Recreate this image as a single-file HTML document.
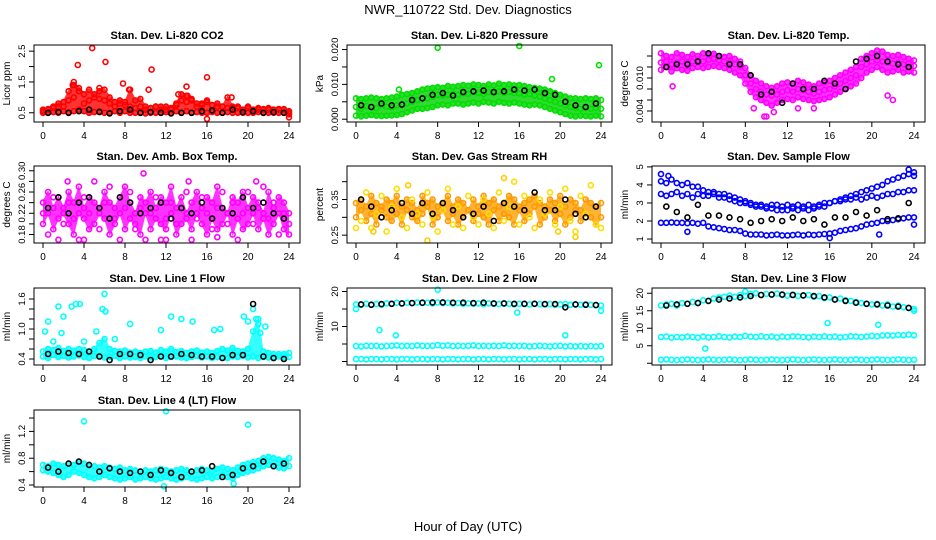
<!DOCTYPE html>
<html><head><meta charset="utf-8"><style>
body{margin:0;background:#fff;}
svg{display:block;font-family:"Liberation Sans",sans-serif;}
</style></head><body>
<svg id="c" width="936" height="540" xmlns="http://www.w3.org/2000/svg">
<text x="468" y="14" text-anchor="middle" font-size="13">NWR_110722 Std. Dev. Diagnostics</text>
<text x="468" y="531" text-anchor="middle" font-size="13">Hour of Day (UTC)</text>
</svg>
<script>
const H=[0,0.5,1,1.5,2,2.5,3,3.5,4,4.5,5,5.5,6,6.5,7,7.5,8,8.5,9,9.5,10,10.5,11,11.5,12,12.5,13,13.5,14,14.5,15,15.5,16,16.5,17,17.5,18,18.5,19,19.5,20,20.5,21,21.5,22,22.5,23,23.5,24];
const HB=[0.5,1.5,2.5,3.5,4.5,5.5,6.5,7.5,8.5,9.5,10.5,11.5,12.5,13.5,14.5,15.5,16.5,17.5,18.5,19.5,20.5,21.5,22.5,23.5];
const xTicks=[0,4,8,12,16,20,24];
// P1 CO2
const co2Low=[0.5,0.5,0.52,0.5,0.55,0.5,0.55,0.6,0.55,0.5,0.52,0.55,0.5,0.5,0.55,0.5,0.55,0.5,0.5,0.5,0.48,0.5,0.5,0.5,0.52,0.5,0.55,0.5,0.55,0.5,0.52,0.5,0.5,0.52,0.5,0.5,0.52,0.5,0.5,0.5,0.5,0.5,0.52,0.5,0.5,0.5,0.5,0.5,0.45];
const co2Mid=[0.6,0.62,0.65,0.7,0.85,0.9,1.0,1.2,1.1,0.9,1.0,0.95,0.9,1.0,0.85,0.8,0.75,0.7,0.65,0.7,0.6,0.65,0.7,0.6,0.6,0.65,0.75,0.9,0.85,0.95,0.8,0.75,0.85,0.75,0.8,0.7,0.65,0.7,0.65,0.6,0.65,0.6,0.6,0.62,0.6,0.6,0.6,0.62,0.55];
const co2High=[0.55,0.6,0.7,0.8,0.7,1.2,1.4,1.3,0.8,1.25,1.1,1.2,1.25,0.8,0.7,0.9,0.85,1.25,0.9,0.95,0.7,0.65,0.7,0.7,0.7,0.6,0.8,1.1,1.05,0.9,0.7,0.8,0.9,0.75,0.7,0.7,1.0,0.65,0.7,0.6,0.7,0.6,0.65,0.6,0.65,0.6,0.62,0.6,0.5];
const co2OutX=[4.8,3.4,6.1,10.6,16,14,7.8,3,2.9,5.5,8.4,10.3,13.2,14.1,18.4,16,24];
const co2OutY=[2.6,2.05,2.15,1.9,1.65,1.35,1.45,1.5,1.4,1.3,1.25,1.25,1.1,1.05,1.0,0.3,0.35];
const co2Black=[0.5,0.52,0.5,0.55,0.6,0.52,0.48,0.55,0.6,0.5,0.52,0.5,0.48,0.5,0.5,0.55,0.58,0.5,0.6,0.52,0.55,0.5,0.52,0.5];
// P2 Pressure
const presLow=[0.001,0.0008,0.001,0.0012,0.001,0.0009,0.001,0.0011,0.0012,0.0015,0.002,0.0025,0.003,0.003,0.0032,0.0035,0.004,0.0042,0.004,0.0045,0.0045,0.0042,0.0045,0.0048,0.0045,0.005,0.0048,0.0045,0.005,0.0047,0.0045,0.0048,0.0045,0.0042,0.004,0.0042,0.004,0.0035,0.003,0.0025,0.002,0.0015,0.001,0.0008,0.001,0.0009,0.0008,0.001,0.0008];
const presMid=[0.0035,0.003,0.0038,0.0035,0.0032,0.004,0.0036,0.0034,0.004,0.0042,0.0045,0.005,0.0055,0.006,0.006,0.0065,0.007,0.0068,0.007,0.0072,0.007,0.0075,0.0073,0.0078,0.0075,0.0072,0.0078,0.0075,0.008,0.0076,0.0078,0.0075,0.0074,0.007,0.0072,0.0068,0.0065,0.006,0.0055,0.005,0.0045,0.004,0.0035,0.0032,0.003,0.0033,0.003,0.0032,0.003];
const presHigh=[0.006,0.0058,0.006,0.0062,0.006,0.0058,0.006,0.0062,0.0065,0.007,0.0072,0.0075,0.008,0.0085,0.0088,0.009,0.0092,0.009,0.0095,0.0093,0.0095,0.0098,0.0096,0.01,0.0098,0.0095,0.01,0.0097,0.0102,0.0098,0.01,0.0097,0.0098,0.0095,0.0092,0.009,0.0088,0.0085,0.008,0.0075,0.007,0.0065,0.006,0.006,0.0058,0.006,0.0058,0.006,0.0055];
const presOutX=[8,16,23.8,19.2,4.2];
const presOutY=[0.0205,0.021,0.0155,0.0115,0.0085];
const presBlack=[0.004,0.0035,0.0045,0.004,0.0042,0.0055,0.006,0.007,0.0075,0.0068,0.0078,0.008,0.0082,0.0078,0.008,0.0085,0.0082,0.0085,0.0075,0.007,0.005,0.004,0.0035,0.0045];
// P3 Li-820 temp
const tempLow=[0.0115,0.012,0.0112,0.0118,0.0115,0.0113,0.0118,0.012,0.0118,0.012,0.0122,0.012,0.0118,0.0115,0.011,0.0105,0.009,0.0075,0.0065,0.006,0.0055,0.005,0.0055,0.006,0.0062,0.006,0.0065,0.0062,0.006,0.0058,0.006,0.0062,0.0065,0.007,0.0075,0.008,0.0085,0.009,0.01,0.011,0.0115,0.012,0.0115,0.011,0.0112,0.0115,0.011,0.0112,0.011];
const tempMid=[0.0128,0.013,0.0125,0.0128,0.013,0.0127,0.013,0.0132,0.013,0.0133,0.0135,0.0132,0.013,0.0128,0.0125,0.012,0.0105,0.009,0.008,0.0075,0.007,0.0068,0.007,0.0075,0.0078,0.0075,0.008,0.0078,0.0075,0.0072,0.0075,0.0078,0.008,0.0085,0.009,0.0095,0.01,0.0105,0.012,0.0125,0.013,0.0132,0.013,0.0128,0.0126,0.0128,0.0125,0.0126,0.0122];
const tempHigh=[0.0145,0.014,0.0138,0.0145,0.0142,0.0138,0.0143,0.014,0.0145,0.0142,0.0144,0.014,0.0138,0.014,0.0135,0.013,0.0118,0.0105,0.0095,0.009,0.0085,0.0082,0.0085,0.009,0.0092,0.009,0.0095,0.0092,0.0088,0.0085,0.009,0.0092,0.0095,0.01,0.0105,0.011,0.0115,0.012,0.0135,0.014,0.0145,0.015,0.0148,0.0142,0.014,0.0142,0.0138,0.0135,0.0132];
const tempOutX=[1.1,9.8,10,10.7,8.8,13,14.5,21.5,22];
const tempOutY=[0.0085,0.003,0.003,0.0038,0.0045,0.0045,0.0045,0.0068,0.006];
const tempBlack=[0.012,0.0125,0.0125,0.013,0.0145,0.014,0.0125,0.0125,0.0105,0.007,0.0075,0.0055,0.009,0.008,0.008,0.0095,0.009,0.008,0.013,0.0135,0.014,0.013,0.0125,0.012];
// P4 amb box temp
const ambA=[0.20,0.22,0.19,0.21,0.23,0.20,0.18,0.22,0.21,0.19,0.20,0.23,0.21,0.18,0.20,0.22,0.19,0.21,0.20,0.18,0.22,0.19,0.21,0.20,0.19,0.22,0.18,0.20,0.21,0.19,0.22,0.20,0.18,0.21,0.19,0.20,0.22,0.18,0.21,0.19,0.20,0.22,0.19,0.21,0.18,0.20,0.22,0.19,0.18];
const ambB=[0.24,0.26,0.23,0.25,0.22,0.26,0.24,0.27,0.23,0.25,0.24,0.22,0.26,0.24,0.23,0.25,0.27,0.24,0.22,0.25,0.24,0.26,0.23,0.25,0.24,0.27,0.23,0.25,0.22,0.24,0.26,0.23,0.25,0.24,0.27,0.23,0.22,0.25,0.24,0.26,0.23,0.25,0.24,0.22,0.26,0.23,0.25,0.24,0.22];
const ambC=[0.22,0.18,0.25,0.17,0.20,0.24,0.21,0.17,0.25,0.22,0.28,0.19,0.24,0.27,0.21,0.17,0.23,0.26,0.19,0.23,0.17,0.22,0.25,0.17,0.21,0.24,0.20,0.23,0.26,0.17,0.21,0.25,0.22,0.19,0.23,0.26,0.20,0.24,0.17,0.22,0.26,0.20,0.23,0.27,0.21,0.24,0.18,0.22,0.20];
const ambOutX=[9.8,2.4,20.8,12,4,14.2,17];
const ambOutY=[0.295,0.28,0.28,0.17,0.17,0.28,0.175];
const ambBlack=[0.23,0.25,0.22,0.24,0.25,0.23,0.21,0.25,0.24,0.22,0.23,0.24,0.21,0.23,0.22,0.24,0.21,0.23,0.22,0.25,0.23,0.24,0.22,0.21];
// P5 RH
const rhA=[0.30,0.32,0.29,0.31,0.28,0.33,0.30,0.29,0.31,0.28,0.32,0.30,0.29,0.31,0.33,0.28,0.30,0.32,0.29,0.31,0.28,0.30,0.32,0.29,0.31,0.30,0.28,0.32,0.29,0.31,0.30,0.28,0.32,0.29,0.31,0.33,0.28,0.30,0.32,0.29,0.31,0.28,0.30,0.32,0.29,0.31,0.30,0.28,0.30];
const rhB=[0.34,0.35,0.33,0.36,0.34,0.32,0.35,0.34,0.36,0.33,0.35,0.34,0.32,0.36,0.34,0.35,0.33,0.34,0.36,0.33,0.35,0.34,0.32,0.35,0.33,0.36,0.34,0.35,0.33,0.34,0.36,0.35,0.33,0.34,0.35,0.36,0.34,0.33,0.35,0.34,0.36,0.33,0.35,0.34,0.32,0.35,0.34,0.33,0.34];
const rhC=[0.27,0.29,0.37,0.27,0.31,0.36,0.26,0.33,0.38,0.30,0.27,0.35,0.31,0.28,0.37,0.30,0.26,0.32,0.38,0.28,0.33,0.27,0.36,0.30,0.28,0.35,0.31,0.27,0.37,0.29,0.33,0.40,0.28,0.36,0.30,0.27,0.35,0.31,0.37,0.28,0.33,0.38,0.29,0.26,0.36,0.31,0.39,0.28,0.27];
const rhBlack=[0.35,0.33,0.30,0.32,0.34,0.31,0.34,0.31,0.34,0.32,0.30,0.31,0.33,0.29,0.34,0.33,0.32,0.37,0.32,0.32,0.35,0.31,0.30,0.33];
const rhOutX=[5.1,1.7,19.8,14.5,7,21.5];
const rhOutY=[0.39,0.26,0.26,0.41,0.235,0.245];
// P6 sample flow
const sfLow=[1.9,1.9,1.92,1.9,1.9,1.88,1.9,1.85,1.9,1.7,1.65,1.6,1.55,1.5,1.5,1.45,1.3,1.25,1.25,1.25,1.2,1.22,1.25,1.2,1.2,1.22,1.25,1.2,1.25,1.22,1.25,1.28,1.3,1.35,1.45,1.5,1.55,1.6,1.7,1.8,1.85,1.9,2.0,2.0,2.05,2.1,2.15,2.2,2.2];
const sfMid=[3.5,3.4,3.5,3.6,3.4,3.5,3.3,3.5,3.4,3.4,3.5,3.3,3.3,3.2,3.1,3.0,3.0,2.9,2.8,2.9,2.8,2.9,2.9,2.8,2.9,2.8,2.9,2.8,2.9,2.8,2.9,3.0,3.0,3.1,3.1,3.2,3.2,3.3,3.2,3.3,3.4,3.3,3.4,3.5,3.5,3.6,3.6,3.7,3.7];
const sfHigh=[4.2,4.1,4.3,4.1,4.0,4.1,3.9,3.9,3.7,3.6,3.6,3.5,3.5,3.4,3.3,3.2,3.1,3.0,2.9,2.8,2.7,2.7,2.6,2.6,2.6,2.7,2.6,2.7,2.6,2.7,2.8,2.8,3.0,3.1,3.2,3.3,3.4,3.5,3.6,3.7,3.8,3.9,4.0,4.2,4.3,4.4,4.5,4.6,4.7];
const sfOutX=[0,0.7,23.5,24,16,20.7,24,2.5];
const sfOutY=[4.6,4.5,4.85,1.8,1.05,1.25,4.5,1.4];
const sfBlack=[2.8,2.5,2.2,2.9,2.3,2.3,2.2,2.1,1.9,2.0,2.1,2.0,2.2,2.0,2.1,1.8,2.2,2.2,2.5,2.3,2.6,2.1,2.15,3.0];
// P7 Line 1 flow
const l1A=[0.45,0.42,0.48,0.44,0.46,0.43,0.45,0.47,0.44,0.42,0.46,0.45,0.43,0.44,0.46,0.42,0.45,0.43,0.44,0.42,0.45,0.43,0.44,0.46,0.42,0.44,0.45,0.43,0.42,0.44,0.46,0.43,0.45,0.42,0.44,0.43,0.42,0.45,0.44,0.46,0.43,0.45,0.42,0.44,0.43,0.42,0.45,0.43,0.44];
const l1B=[0.55,0.6,0.58,0.62,0.56,0.6,0.57,0.6,0.58,0.55,0.6,0.72,0.8,0.6,0.56,0.55,0.57,0.53,0.55,0.52,0.55,0.56,0.53,0.58,0.55,0.6,0.54,0.56,0.52,0.55,0.57,0.53,0.55,0.52,0.56,0.6,0.57,0.62,0.56,0.55,0.6,0.95,1.2,0.55,0.52,0.5,0.5,0.5,0.52];
const l1OutX=[0.2,0.5,1.5,2,2.8,3.2,3.6,6,5.8,6.1,12.5,13.5,14.6,8.5,11.5,16.7,17.3,1.8,5.2,20.5,20.8,21,20,19.6,21.7,21.2,1,4,7];
const l1OutY=[0.95,1.15,1.45,1.25,1.45,1.5,1.5,1.7,1.4,1.35,1.25,1.2,1.15,1.1,0.98,0.98,1.0,0.92,0.95,1.4,1.2,1.1,1.15,1.25,1.05,0.92,0.75,0.75,0.8];
const l1Black=[0.5,0.55,0.52,0.5,0.55,0.45,0.38,0.5,0.5,0.48,0.38,0.45,0.45,0.5,0.48,0.45,0.45,0.42,0.48,0.48,1.5,0.45,0.42,0.4];
// P8 Line 2 flow
const l2A=[16.3,16.2,16.5,16.3,16.4,16.2,16.6,16.5,16.8,16.6,16.8,16.7,16.9,16.7,16.8,16.6,16.9,16.7,16.8,16.6,16.7,16.5,16.6,16.5,16.6,16.4,16.6,16.5,16.4,16.6,16.5,16.3,16.5,16.4,16.3,16.5,16.4,16.3,16.4,16.2,16.3,16.4,16.2,16.3,16.2,16.3,16.2,16.1,16.0];
const l2B=[4.4,4.3,4.5,4.4,4.5,4.3,4.4,4.5,4.6,4.4,4.5,4.4,4.6,4.5,4.4,4.5,4.7,4.5,4.6,4.4,4.5,4.4,4.5,4.6,4.4,4.5,4.4,4.5,4.4,4.6,4.4,4.5,4.4,4.5,4.3,4.4,4.5,4.4,4.3,4.4,4.5,4.3,4.4,4.3,4.4,4.3,4.4,4.3,4.4];
const l2C=[0.7,0.7,0.6,0.7,0.7,0.6,0.7,0.7,0.6,0.7,0.7,0.6,0.7,0.7,0.6,0.7,0.7,0.6,0.7,0.7,0.6,0.7,0.7,0.6,0.7,0.7,0.6,0.7,0.7,0.6,0.7,0.7,0.6,0.7,0.7,0.6,0.7,0.7,0.6,0.7,0.7,0.6,0.7,0.7,0.6,0.7,0.7,0.6,0.7];
const l2OutX=[3.9,2.3,8,24,20.5,0,15.8];
const l2OutY=[7.5,9,20.5,14.5,7.5,15,14];
const l2Black=[16.3,16.2,16.4,16.5,16.6,16.7,16.8,16.9,16.9,16.8,16.8,16.7,16.8,16.6,16.6,16.5,16.5,16.5,16.4,16.4,15.5,16.3,16.2,16.1];
// P9 Line 3 flow
const l3A=[16.5,16.8,17,16.5,17.2,17,17.5,17.3,18,17.8,18.5,18.8,19,19.3,19,19.5,19.2,19.8,20,19.5,19.8,19.6,19.9,19.5,19.3,19.6,19.2,19.4,19.5,19,19.2,18.6,18.8,18.3,18.5,18,17.8,17.5,17.2,17,16.8,17,16.5,16.8,16.2,16.5,16,15.8,15.5];
const l3B=[7.5,7.6,7.3,7.5,7.4,7.6,7.5,7.3,7.6,7.4,7.5,7.7,7.5,7.4,7.6,7.5,7.8,7.6,7.5,7.7,7.5,7.6,7.4,7.6,7.5,7.7,7.6,7.5,7.4,7.6,7.5,7.7,7.5,7.6,7.4,7.5,7.7,7.6,7.5,7.6,7.8,7.7,7.9,8.0,7.9,8.1,8.0,8.2,8.0];
const l3C=[1.0,1.1,1.0,0.9,1.0,1.1,1.0,0.9,1.0,1.1,1.0,0.9,1.0,1.1,1.0,0.9,1.0,1.1,1.0,0.9,1.0,1.1,1.0,0.9,1.0,1.1,1.0,0.9,1.0,1.1,1.0,0.9,1.0,1.1,1.0,0.9,1.0,1.1,1.0,0.9,1.0,1.1,1.0,0.9,1.0,1.1,1.0,0.9,1.0];
const l3OutX=[4.2,15.8,20.6,8,24];
const l3OutY=[4.2,11.5,11,20.5,15];
const l3Black=[16.5,16.8,17,17.2,17.8,18.2,18.5,18.8,19.2,19.5,19.6,19.6,19.5,19.4,19.2,18.8,18.2,17.8,17.3,17,16.8,16.5,16.2,15.8];
// P10 Line 4 flow
const l4A=[0.62,0.6,0.58,0.55,0.52,0.55,0.6,0.58,0.55,0.52,0.5,0.52,0.55,0.52,0.5,0.48,0.5,0.52,0.48,0.5,0.52,0.5,0.48,0.5,0.52,0.5,0.48,0.5,0.52,0.5,0.48,0.5,0.52,0.5,0.52,0.55,0.52,0.5,0.55,0.58,0.6,0.62,0.65,0.68,0.7,0.68,0.66,0.65,0.68];
const l4B=[0.7,0.68,0.72,0.7,0.68,0.72,0.7,0.74,0.72,0.7,0.68,0.66,0.68,0.66,0.64,0.66,0.62,0.64,0.62,0.6,0.62,0.6,0.62,0.64,0.62,0.6,0.62,0.64,0.62,0.6,0.62,0.64,0.62,0.6,0.64,0.66,0.64,0.62,0.66,0.7,0.72,0.74,0.76,0.8,0.82,0.8,0.78,0.76,0.8];
const l4OutX=[4,12,20,11.8,18.6];
const l4OutY=[1.35,1.5,1.3,0.38,0.42];
const l4Black=[0.66,0.6,0.72,0.75,0.7,0.6,0.65,0.6,0.58,0.6,0.55,0.62,0.58,0.52,0.6,0.62,0.68,0.52,0.55,0.65,0.68,0.75,0.68,0.72];

const svg=document.getElementById('c');
const NS='http://www.w3.org/2000/svg';
function mk(tag,attrs,parent){const e=document.createElementNS(NS,tag);for(const k in attrs)e.setAttribute(k,attrs[k]);(parent||svg).appendChild(e);return e;}

const cols=[[34,300],[347,612],[652,925]];
const rowsT=[45,166,288,410];
const PH=77;

const panels=[
 {name:'co2',title:'Stan. Dev. Li-820 CO2',ylab:'Licor ppm',col:0,row:0,ymin:0.2,ymax:2.7,ticks:[0.5,1,1.5,2,2.5],labels:['0.5','','1.5','','2.5'],band:[co2Low,co2Mid,co2High],bandColor:'#ff0000',
  series:[[H,co2Low,'#ff0000'],[H,co2Mid,'#ff0000'],[H,co2High,'#ff0000'],[co2OutX,co2OutY,'#ff0000'],[HB,co2Black,'#000000']]},
 {name:'pressure',title:'Stan. Dev. Li-820 Pressure',ylab:'kPa',col:1,row:0,ymin:-0.0008,ymax:0.0213,ticks:[0,0.005,0.01,0.015,0.02],labels:['0.000','','0.010','','0.020'],band:[presLow,presMid,presHigh],bandColor:'#00d000',
  series:[[H,presLow,'#00e000'],[H,presMid,'#00e000'],[H,presHigh,'#00e000'],[presOutX,presOutY,'#00e000'],[HB,presBlack,'#000000']]},
 {name:'li820-temp',title:'Stan. Dev. Li-820 Temp.',ylab:'degrees C',col:2,row:0,ymin:0.002,ymax:0.016,ticks:[0.004,0.006,0.008,0.01,0.012,0.014],labels:['0.004','','','0.010','',''],band:[tempLow,tempMid,tempHigh],bandColor:'#ff00ff',
  series:[[H,tempLow,'#ff00ff'],[H,tempMid,'#ff00ff'],[H,tempHigh,'#ff00ff'],[tempOutX,tempOutY,'#ff00ff'],[HB,tempBlack,'#000000']]},
 {name:'amb-box-temp',title:'Stan. Dev. Amb. Box Temp.',ylab:'degrees C',col:0,row:1,ymin:0.164,ymax:0.309,ticks:[0.18,0.2,0.22,0.24,0.26,0.28,0.3],labels:['0.18','','0.22','','0.26','','0.30'],band:[ambA,ambB],bandColor:'#ff00ff',
  series:[[H,ambA,'#ff00ff'],[H,ambB,'#ff00ff'],[H,ambC,'#ff00ff'],[ambOutX,ambOutY,'#ff00ff'],[HB,ambBlack,'#000000']]},
 {name:'gas-stream-rh',title:'Stan. Dev. Gas Stream RH',ylab:'percent',col:1,row:1,ymin:0.228,ymax:0.444,ticks:[0.25,0.3,0.35,0.4],labels:['0.25','','0.35',''],band:[rhA,rhB],bandColor:'#ffa000',
  series:[[H,rhA,'#ff9900'],[H,rhB,'#ff9900'],[H,rhC,'#ffdd00'],[rhOutX,rhOutY,'#ffcc00'],[HB,rhBlack,'#000000']]},
 {name:'sample-flow',title:'Stan. Dev. Sample Flow',ylab:'ml/min',col:2,row:1,ymin:0.78,ymax:5.05,ticks:[1,2,3,4,5],labels:['1','2','3','4','5'],band:null,
  series:[[H,sfLow,'#0000ff'],[H,sfMid,'#0000ff'],[H,sfHigh,'#0000ff'],[sfOutX,sfOutY,'#0000ff'],[HB,sfBlack,'#000000']]},
 {name:'line1-flow',title:'Stan. Dev. Line 1 Flow',ylab:'ml/min',col:0,row:2,ymin:0.28,ymax:1.82,ticks:[0.4,0.6,0.8,1.0,1.2,1.4,1.6],labels:['0.4','','','1.0','','','1.6'],band:[l1A,l1B],bandColor:'#00ffff',
  series:[[H,l1A,'#00ffff'],[H,l1B,'#00ffff'],[l1OutX,l1OutY,'#00ffff'],[HB,l1Black,'#000000']]},
 {name:'line2-flow',title:'Stan. Dev. Line 2 Flow',ylab:'ml/min',col:1,row:2,ymin:-1,ymax:21,ticks:[0,5,10,15,20],labels:['','','10','','20'],band:null,
  series:[[H,l2A,'#00ffff'],[H,l2B,'#00ffff'],[H,l2C,'#00ffff'],[l2OutX,l2OutY,'#00ffff'],[HB,l2Black,'#000000']]},
 {name:'line3-flow',title:'Stan. Dev. Line 3 Flow',ylab:'ml/min',col:2,row:2,ymin:-0.5,ymax:21.5,ticks:[0,5,10,15,20],labels:['','5','10','15','20'],band:null,
  series:[[H,l3A,'#00ffff'],[H,l3B,'#00ffff'],[H,l3C,'#00ffff'],[l3OutX,l3OutY,'#00ffff'],[HB,l3Black,'#000000']]},
 {name:'line4-flow',title:'Stan. Dev. Line 4 (LT) Flow',ylab:'ml/min',col:0,row:3,ymin:0.37,ymax:1.52,ticks:[0.4,0.6,0.8,1.0,1.2,1.4],labels:['0.4','','0.8','','1.2',''],band:[l4A,l4B],bandColor:'#00ffff',
  series:[[H,l4A,'#00ffff'],[H,l4B,'#00ffff'],[l4OutX,l4OutY,'#00ffff'],[HB,l4Black,'#000000']]}
];

panels.forEach(p=>{
  const L=cols[p.col][0],R=cols[p.col][1],T=rowsT[p.row],B=T+PH;
  const g=mk('g',{});
  
  
  const xs=h=>L+9+h/24*(R-L-20);
  const ys=v=>B-(v-p.ymin)/(p.ymax-p.ymin)*(B-T);
  const t=mk('text',{x:(L+R)/2,y:T-6,'text-anchor':'middle','font-size':'11','font-weight':'bold'},g);
  t.textContent=p.title;
  
  
  const yl=mk('text',{x:0,y:0,'text-anchor':'middle','font-size':'10',transform:`translate(${L-24},${(T+B)/2}) rotate(-90)`},g);
  yl.textContent=p.ylab;
  
  
  if(p.band){
    const up=[],dn=[];
    for(let i=0;i<H.length;i++){
      const vals=p.band.map(a=>a[i]);
      up.push(xs(H[i]).toFixed(1)+','+(ys(Math.max(...vals))-2).toFixed(1));
      dn.unshift(xs(H[i]).toFixed(1)+','+(ys(Math.min(...vals))+2).toFixed(1));
    }
    const poly=mk('polygon',{points:up.concat(dn).join(' '),fill:p.bandColor,'fill-opacity':'0.8',stroke:'none'},g);
    
    
  }
  const pg=mk('g',{fill:'none','stroke-width':'1.6'},g);
  
  
  p.series.forEach(s=>{
    const xa=s[0],ya=s[1];
    for(let i=0;i<ya.length&&i<xa.length;i++){
      const c=mk('circle',{cx:xs(xa[i]).toFixed(1),cy:ys(ya[i]).toFixed(1),r:'2.5',stroke:s[2]},pg);
      
      
    }
  });
  const box=mk('rect',{x:L,y:T,width:R-L,height:B-T,fill:'none',stroke:'#000','stroke-width':'1'},g);
  
  
  xTicks.forEach(h=>{
    mk('line',{x1:xs(h),x2:xs(h),y1:B,y2:B+5,stroke:'#000'},g);
    const tx=mk('text',{x:xs(h),y:B+17,'text-anchor':'middle','font-size':'10'},g);
    tx.textContent=h;
    
    
  });
  p.ticks.forEach((v,i)=>{
    mk('line',{x1:L-5,x2:L,y1:ys(v),y2:ys(v),stroke:'#000'},g);
    if(p.labels[i]){
      const ty=mk('text',{x:0,y:0,'text-anchor':'middle','font-size':'9.5',transform:`translate(${L-9},${ys(v)}) rotate(-90)`},g);
      ty.textContent=p.labels[i];
      
      
    }
  });
});
</script>
</body></html>
